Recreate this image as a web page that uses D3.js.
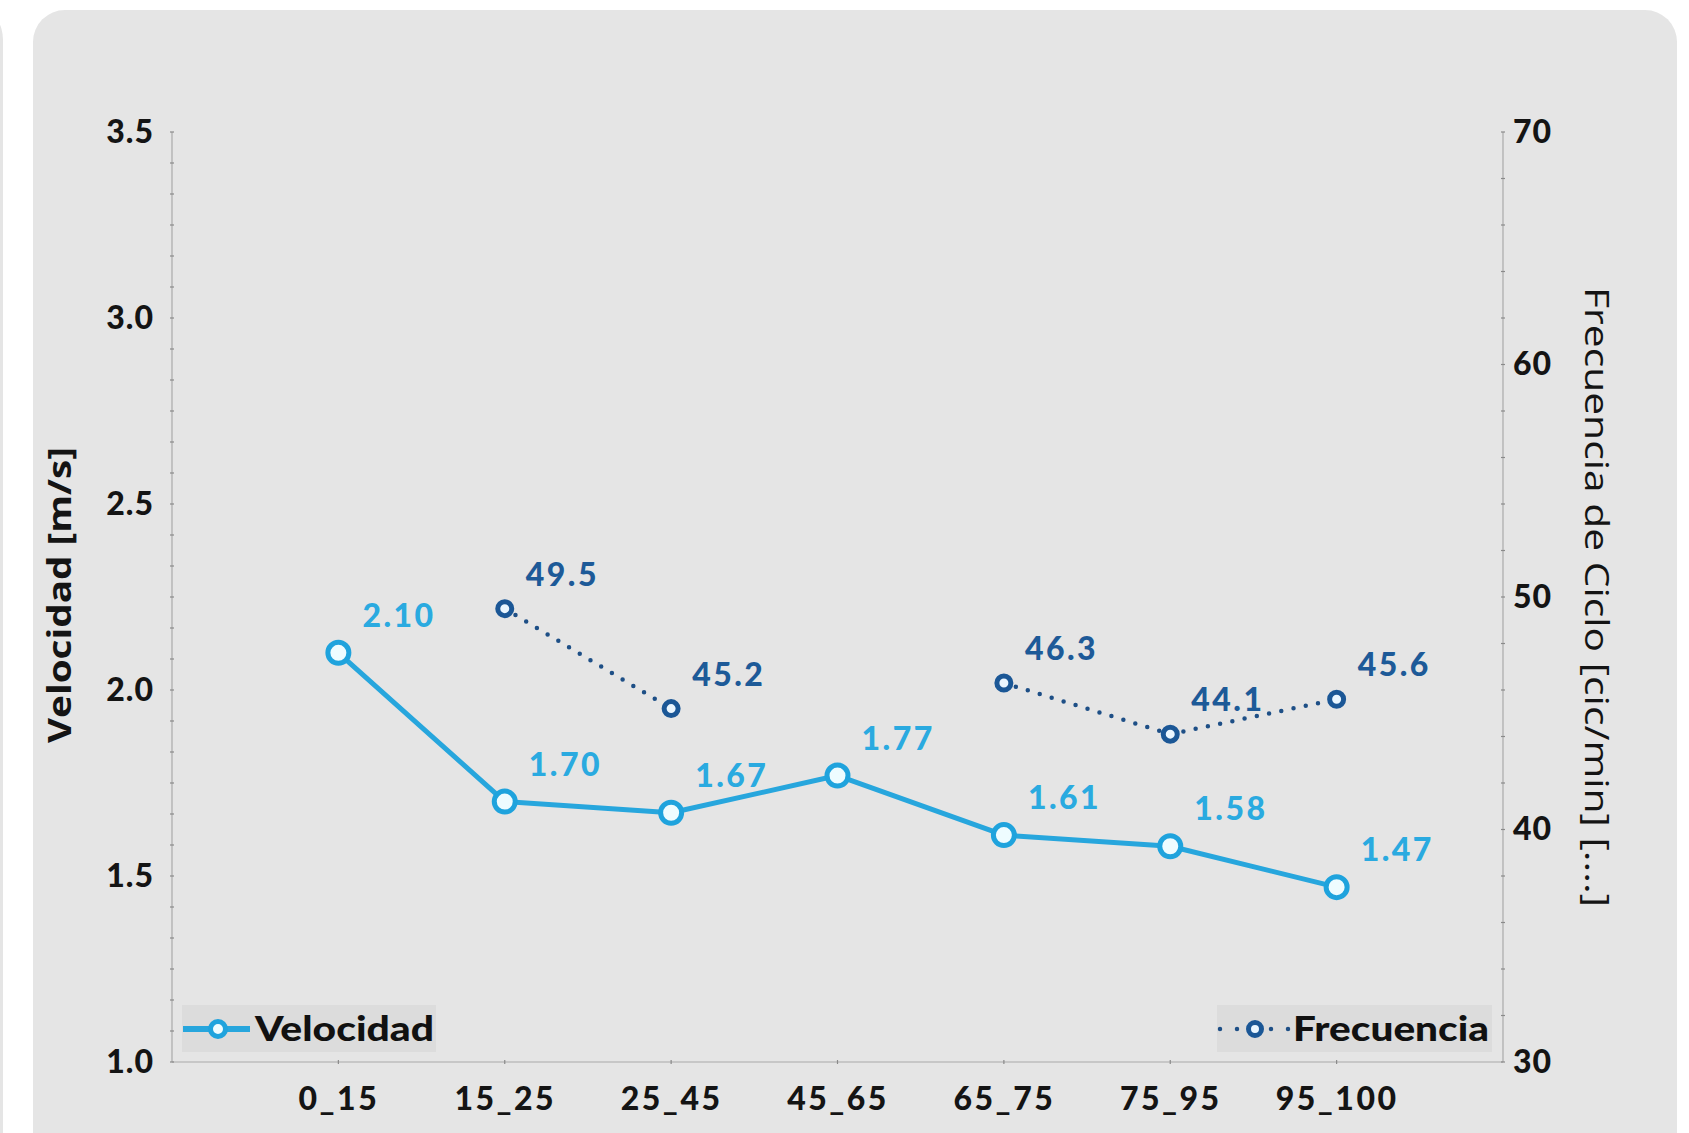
<!DOCTYPE html>
<html>
<head>
<meta charset="utf-8">
<script src="https://cdn.jsdelivr.net/npm/d3@7/dist/d3.min.js"></script>
<style>
  html, body { margin: 0; padding: 0; background: #ffffff; }
  svg { display: block; }
</style>
</head>
<body>
<script>
// ---------------- data ----------------
const categories = ["0_15", "15_25", "25_45", "45_65", "65_75", "75_95", "95_100"];
const velocidad = [2.10, 1.70, 1.67, 1.77, 1.61, 1.58, 1.47];
const frecuencia = [null, 49.5, 45.2, null, 46.3, 44.1, 45.6];
const leftTicks = [1.0, 1.5, 2.0, 2.5, 3.0, 3.5];
const rightTicks = [30, 40, 50, 60, 70];
const leftTitle = "Velocidad [m/s]";
const rightTitle = "Frecuencia de Ciclo [cic/min] [....]";
const legendLabels = ["Velocidad", "Frecuencia"];

// ---------------- layout ----------------
const W = 1689, H = 1133;
const plot = { left: 172, right: 1503, top: 132, bottom: 1062 };
const cVel = "#27a6dd", cVelLabel = "#2aaae0";
const cFreq = "#1b5796", cFreqLabel = "#1d5a98";
const tickFont = "Lato, 'Open Sans', sans-serif";

const svg = d3.select("body").append("svg").attr("width", W).attr("height", H);

// background panels
svg.append("rect").attr("x", -40).attr("y", 10).attr("width", 43).attr("height", H + 60)
  .attr("rx", 30).attr("fill", "#e5e5e5");
svg.append("rect").attr("x", 33).attr("y", 10).attr("width", 1677 - 33).attr("height", H + 60)
  .attr("rx", 32).attr("fill", "#e5e5e5");

// scales
const x = d3.scalePoint().domain(categories).range([plot.left, plot.right]).padding(1);
const yL = d3.scaleLinear().domain([1.0, 3.5]).range([plot.bottom, plot.top]);
const yR = d3.scaleLinear().domain([30, 70]).range([plot.bottom, plot.top]);

const axisColor = "#a9a9a9";

// axis lines
svg.append("line").attr("x1", plot.left).attr("x2", plot.left).attr("y1", plot.top).attr("y2", plot.bottom)
  .attr("stroke", axisColor).attr("stroke-width", 1.2);
svg.append("line").attr("x1", plot.right).attr("x2", plot.right).attr("y1", plot.top).attr("y2", plot.bottom)
  .attr("stroke", axisColor).attr("stroke-width", 1.2);
svg.append("line").attr("x1", plot.left).attr("x2", plot.right).attr("y1", plot.bottom).attr("y2", plot.bottom)
  .attr("stroke", axisColor).attr("stroke-width", 1.2);

// minor ticks
const leftMinor = d3.range(0, 31).map(i => 1.0 + i * (0.5 / 6));
svg.append("g").selectAll("line").data(leftMinor).join("line")
  .attr("x1", plot.left - 2).attr("x2", plot.left + 2)
  .attr("y1", d => yL(d)).attr("y2", d => yL(d))
  .attr("stroke", "#8a8a8a").attr("stroke-width", 1.2);
const rightMinor = d3.range(30, 71, 2);
svg.append("g").selectAll("line").data(rightMinor).join("line")
  .attr("x1", plot.right - 2).attr("x2", plot.right + 2)
  .attr("y1", d => yR(d)).attr("y2", d => yR(d))
  .attr("stroke", "#8a8a8a").attr("stroke-width", 1.2);
svg.append("g").selectAll("line").data(categories).join("line")
  .attr("x1", d => x(d)).attr("x2", d => x(d))
  .attr("y1", plot.bottom - 2).attr("y2", plot.bottom + 2)
  .attr("stroke", "#8a8a8a").attr("stroke-width", 1.2);

// axes (labels)
function styleAxis(ls) {
  return g => {
    g.select(".domain").remove();
    g.selectAll("line").remove();
    g.selectAll("text").attr("font-family", tickFont).attr("font-weight", 900)
      .attr("font-size", 32).attr("letter-spacing", ls).attr("fill", "#141414");
  };
}
svg.append("g").attr("transform", `translate(${plot.left},0)`)
  .call(d3.axisLeft(yL).tickValues(leftTicks).tickFormat(d3.format(".1f")).tickSize(0).tickPadding(18))
  .call(styleAxis(1));
svg.append("g").attr("transform", `translate(${plot.right},0)`)
  .call(d3.axisRight(yR).tickValues(rightTicks).tickFormat(d3.format("d")).tickSize(0).tickPadding(10))
  .call(styleAxis(1));
svg.append("g").attr("transform", `translate(0,${plot.bottom})`)
  .call(d3.axisBottom(x).tickSize(0).tickPadding(25))
  .call(styleAxis(2.5));

// axis titles
svg.append("text").attr("transform", "translate(71,595) rotate(-90)")
  .attr("text-anchor", "middle").attr("font-family", "'Open Sans', sans-serif")
  .attr("font-weight", 700).attr("font-size", 33).attr("fill", "#141414")
  .attr("textLength", 296).attr("lengthAdjust", "spacingAndGlyphs")
  .text(leftTitle);
svg.append("text").attr("transform", "translate(1585,597) rotate(90)")
  .attr("text-anchor", "middle").attr("font-family", "'Open Sans', sans-serif")
  .attr("font-weight", 400).attr("font-size", 33).attr("fill", "#141414")
  .attr("textLength", 620).attr("lengthAdjust", "spacingAndGlyphs")
  .text(rightTitle);

// ---------------- series ----------------
const velData = categories.map((c, i) => ({ c, v: velocidad[i] }));
const freqData = categories.map((c, i) => ({ c, v: frecuencia[i] }));

// Velocidad line
svg.append("path").datum(velData)
  .attr("fill", "none").attr("stroke", cVel).attr("stroke-width", 5)
  .attr("stroke-linejoin", "round")
  .attr("d", d3.line().x(d => x(d.c)).y(d => yL(d.v)));

// Frecuencia dotted line (gap at missing)
svg.append("path").datum(freqData)
  .attr("fill", "none").attr("stroke", "#1e4f86").attr("stroke-width", 4.5)
  .attr("stroke-linecap", "round").attr("stroke-dasharray", "0 12.5")
  .attr("d", d3.line().defined(d => d.v != null).x(d => x(d.c)).y(d => yR(d.v)));

// markers
svg.append("g").selectAll("circle").data(velData).join("circle")
  .attr("cx", d => x(d.c)).attr("cy", d => yL(d.v)).attr("r", 10.5)
  .attr("fill", "#eefcff").attr("stroke", "#1fa3dd").attr("stroke-width", 5);
svg.append("g").selectAll("circle").data(freqData.filter(d => d.v != null)).join("circle")
  .attr("cx", d => x(d.c)).attr("cy", d => yR(d.v)).attr("r", 7)
  .attr("fill", "#eaf6ff").attr("stroke", cFreq).attr("stroke-width", 5);

// value labels
svg.append("g").selectAll("text").data(velData).join("text")
  .attr("x", d => x(d.c) + 24).attr("y", d => yL(d.v) - 26)
  .attr("font-family", tickFont).attr("font-weight", 900).attr("font-size", 32)
  .attr("letter-spacing", 2.5)
  .attr("fill", cVelLabel).text(d => d3.format(".2f")(d.v));
svg.append("g").selectAll("text").data(freqData.filter(d => d.v != null)).join("text")
  .attr("x", d => x(d.c) + 21).attr("y", d => yR(d.v) - 23)
  .attr("font-family", tickFont).attr("font-weight", 900).attr("font-size", 32)
  .attr("letter-spacing", 2.5)
  .attr("fill", cFreqLabel).text(d => d3.format(".1f")(d.v));

// ---------------- legends ----------------
const lg1 = svg.append("g").attr("transform", "translate(182,1005)");
lg1.append("rect").attr("width", 254).attr("height", 47).attr("fill", "#dcdcdc");
lg1.append("line").attr("x1", 1).attr("x2", 68).attr("y1", 24).attr("y2", 24)
  .attr("stroke", cVel).attr("stroke-width", 6);
lg1.append("circle").attr("cx", 36).attr("cy", 24).attr("r", 7.5)
  .attr("fill", "#eefcff").attr("stroke", "#1fa3dd").attr("stroke-width", 5);
lg1.append("text").attr("x", 73).attr("y", 36)
  .attr("font-family", tickFont).attr("font-weight", 900).attr("font-size", 34)
  .attr("textLength", 179).attr("lengthAdjust", "spacingAndGlyphs")
  .attr("fill", "#111").text(legendLabels[0]);

const lg2 = svg.append("g").attr("transform", "translate(1217,1005)");
lg2.append("rect").attr("width", 275).attr("height", 47).attr("fill", "#dcdcdc");
lg2.append("line").attr("x1", 3).attr("x2", 72).attr("y1", 24).attr("y2", 24)
  .attr("stroke", "#1e4f86").attr("stroke-width", 4.5)
  .attr("stroke-linecap", "round").attr("stroke-dasharray", "0 17");
lg2.append("circle").attr("cx", 38).attr("cy", 24).attr("r", 6.5)
  .attr("fill", "#eaf6ff").attr("stroke", cFreq).attr("stroke-width", 5);
lg2.append("text").attr("x", 76).attr("y", 36)
  .attr("font-family", tickFont).attr("font-weight", 900).attr("font-size", 34)
  .attr("textLength", 196).attr("lengthAdjust", "spacingAndGlyphs")
  .attr("fill", "#111").text(legendLabels[1]);
</script>
</body>
</html>
